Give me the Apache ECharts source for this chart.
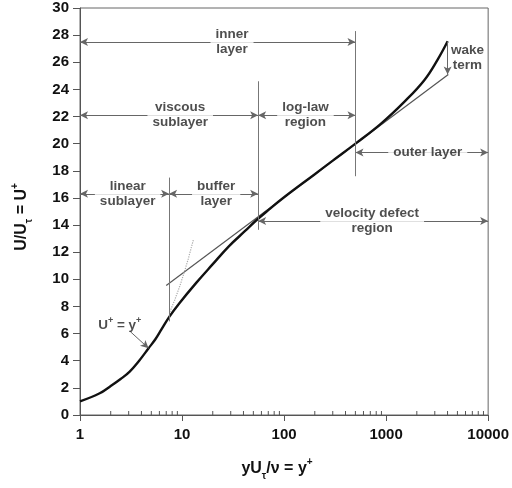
<!DOCTYPE html>
<html>
<head>
<meta charset="utf-8">
<script src="https://cdn.jsdelivr.net/npm/echarts@6/dist/echarts.min.js"></script>
<style>
  html, body { margin: 0; padding: 0; background: #fff; }
  #chart { width: 512px; height: 488px; }
</style>
</head>
<body>
<div id="chart"></div>
<script>
// velocity profile
var curveY = [1, 1.56, 1.96, 2.5, 3.07, 3.8, 4.7, 5.5, 6.24, 7.52, 9.42, 13.7, 19.9, 28.9, 42, 52.5, 70, 100, 200, 300, 501, 898, 1515, 2377, 3200, 4010];
var curveU = [1.0, 1.6, 2.09, 2.65, 3.2, 4.0, 4.92, 5.6, 6.27, 7.25, 8.24, 9.72, 11.1, 12.45, 13.6, 14.3, 15.1, 16.05, 17.75, 18.75, 20.0, 21.5, 23.1, 24.7, 26.2, 27.55];

// log-law straight line
var lawY = [7, 4070];
var lawU = [9.55, 25.1];

// U+ = y+ (dotted)
var dotY = [7.6, 8.5, 9.5, 10.5, 11.5, 12.9];
var dotU = [7.6, 8.5, 9.5, 10.5, 11.5, 12.9];

// region boundaries
var wallY = [7.47, 55.7, 501];
var wallTop = [17.5, 24.6, 28.3];
var wallBottom = [6.9, 13.65, 17.6];

// double arrows with their labels
var spanLabel = ['inner\nlayer', 'viscous\nsublayer', 'log-law\nregion', 'linear\nsublayer', 'buffer\nlayer', 'outer layer', 'velocity defect\nregion'];
var spanFrom = [1, 1, 55.7, 1, 7.47, 501, 55.7];
var spanTo = [501, 55.7, 501, 7.47, 55.7, 10000, 10000];
var spanU = [27.5, 22.1, 22.1, 16.3, 16.3, 19.35, 14.3];
var spanTextY = [30.9, 9.6, 162, 2.93, 21.6, 2560, 730];

// wake term arrow, U+=y+ pointer
var wakeY = 4010;
var wakeU = [27.5, 25.1];
var ptrY = [3.11, 4.7];
var ptrU = [6.15, 4.92];
var ptrTextY = 2.45, ptrTextU = 6.64;
var wakeTextY = 6270, wakeTextU = 26.35;

var yTicks = [0, 30, 2];
var xTicks = [1, 10000];

var FONT = '"Liberation Sans", Arial, sans-serif';
var chart = echarts.init(document.getElementById('chart'));

function pairs(xs, ys) {
  return xs.map(function (x, i) { return [x, ys[i]]; });
}

// minor ticks of the log axis (2..9 of every decade)
var minorTicks = [];
for (var d = 1; d < 10000; d *= 10) {
  for (var k = 2; k <= 9; k++) minorTicks.push([k * d, 0]);
}

var arrowLines = [];
spanLabel.forEach(function (s, i) {
  arrowLines.push([{ coord: [spanFrom[i], spanU[i]] }, { coord: [spanTo[i], spanU[i]] }]);
});
arrowLines.push([{ coord: [wakeY, wakeU[0]], symbol: 'none' }, { coord: [wakeY, wakeU[1]] }]);
arrowLines.push([{ coord: [ptrY[0], ptrU[0]], symbol: 'none' }, { coord: [ptrY[1], ptrU[1]] }]);

var wallLines = wallY.map(function (x, i) {
  return [{ coord: [x, wallBottom[i]] }, { coord: [x, wallTop[i]] }];
});

var textItems = spanLabel.map(function (s, i) {
  return { name: s, value: [spanTextY[i], spanU[i]] };
});
textItems.push({
  name: 'wake\nterm', value: [wakeTextY, wakeTextU],
  label: { backgroundColor: 'transparent', padding: 0 }
});
textItems.push({
  name: 'U+ = y+', value: [ptrTextY, ptrTextU],
  label: { backgroundColor: 'transparent', padding: 0, formatter: '{b|U}{s|+}{b| = y}{s|+}' }
});

var nameRich = {
  b: { fontSize: 16, fontWeight: 'bold', fontFamily: FONT, fill: '#111', lineHeight: 24 },
  sub: { fontSize: 10, fontWeight: 'bold', fontFamily: FONT, fill: '#111', lineHeight: 24, verticalAlign: 'bottom' },
  sup: { fontSize: 10, fontWeight: 'bold', fontFamily: FONT, fill: '#111', lineHeight: 24, verticalAlign: 'top' }
};

var option = {
  animation: false,
  backgroundColor: '#fff',
  grid: { left: 80, right: 21, top: 8, bottom: 73, show: true, borderColor: '#666', borderWidth: 1 },
  xAxis: {
    type: 'log', logBase: 10, min: xTicks[0], max: xTicks[1],
    axisLine: { lineStyle: { color: '#555', width: 1 } },
    axisTick: { show: true, length: 6, lineStyle: { color: '#555' } },
    axisLabel: {
      margin: 12, fontSize: 15, fontWeight: 'bold', color: '#111', fontFamily: FONT,
      formatter: function (v) { return String(Math.round(v)); }
    },
    splitLine: { show: false }
  },
  yAxis: {
    type: 'value', min: yTicks[0], max: yTicks[1], interval: yTicks[2],
    axisLine: { show: true, lineStyle: { color: '#555', width: 1 } },
    axisTick: { show: true, length: 7, lineStyle: { color: '#555' } },
    axisLabel: { margin: 11, fontSize: 15, fontWeight: 'bold', color: '#111', fontFamily: FONT },
    splitLine: { show: false }
  },
  graphic: [
    {
      type: 'text', x: 22, y: 217, rotation: Math.PI / 2,
      style: {
        text: '{b|U/U}{sub|τ}{b| = U}{sup|+}',
        x: 0, y: 0, align: 'center', verticalAlign: 'middle', rich: nameRich
      }
    },
    {
      type: 'text', x: 277, y: 469,
      style: {
        text: '{b|yU}{sub|τ}{b|/ν = y}{sup|+}',
        x: 0, y: 0, align: 'center', verticalAlign: 'middle', rich: nameRich
      }
    }
  ],
  series: [
    {
      // log law + arrows
      type: 'line', data: pairs(lawY, lawU), symbol: 'none', silent: true, z: 2,
      lineStyle: { color: '#555', width: 1.2 },
      markLine: {
        silent: true, animation: false,
        symbol: ['arrow', 'arrow'], symbolSize: [6, 8],
        label: { show: false },
        lineStyle: { color: '#666', width: 1, type: 'solid' },
        data: arrowLines
      }
    },
    {
      type: 'line', data: [], symbol: 'none', silent: true, z: 2,
      markLine: {
        silent: true, animation: false, symbol: ['none', 'none'],
        label: { show: false },
        lineStyle: { color: '#777', width: 1, type: 'solid' },
        data: wallLines
      }
    },
    {
      type: 'line', data: pairs(dotY, dotU), symbol: 'none', silent: true, z: 2,
      lineStyle: { color: '#aaa', width: 1.2, type: 'dotted' }
    },
    {
      type: 'line', data: pairs(curveY, curveU), symbol: 'none', smooth: 0.4,
      silent: true, z: 3,
      lineStyle: { color: '#111', width: 2.4 }
    },
    {
      type: 'custom', data: minorTicks, silent: true, z: 1, clip: false,
      renderItem: function (params, api) {
        var p = api.coord([api.value(0), api.value(1)]);
        return {
          type: 'line',
          shape: { x1: p[0], y1: p[1] + 1, x2: p[0], y2: p[1] - 4 },
          style: { stroke: '#555', lineWidth: 1 }
        };
      }
    },
    {
      type: 'scatter', data: textItems, symbolSize: 0, silent: true, z: 10,
      label: {
        show: true, position: 'inside', formatter: '{b}',
        fontSize: 13.5, fontWeight: 'bold', color: '#222', fontFamily: FONT,
        lineHeight: 15, align: 'center', verticalAlign: 'middle',
        backgroundColor: '#fff', padding: [0, 5],
        rich: {
          b: { fontSize: 13.5, fontWeight: 'bold', color: '#222', fontFamily: FONT, lineHeight: 18 },
          s: { fontSize: 9, fontWeight: 'bold', color: '#222', fontFamily: FONT, lineHeight: 18, verticalAlign: 'top' }
        }
      }
    }
  ]
};
chart.setOption(option);
</script>
</body>
</html>
